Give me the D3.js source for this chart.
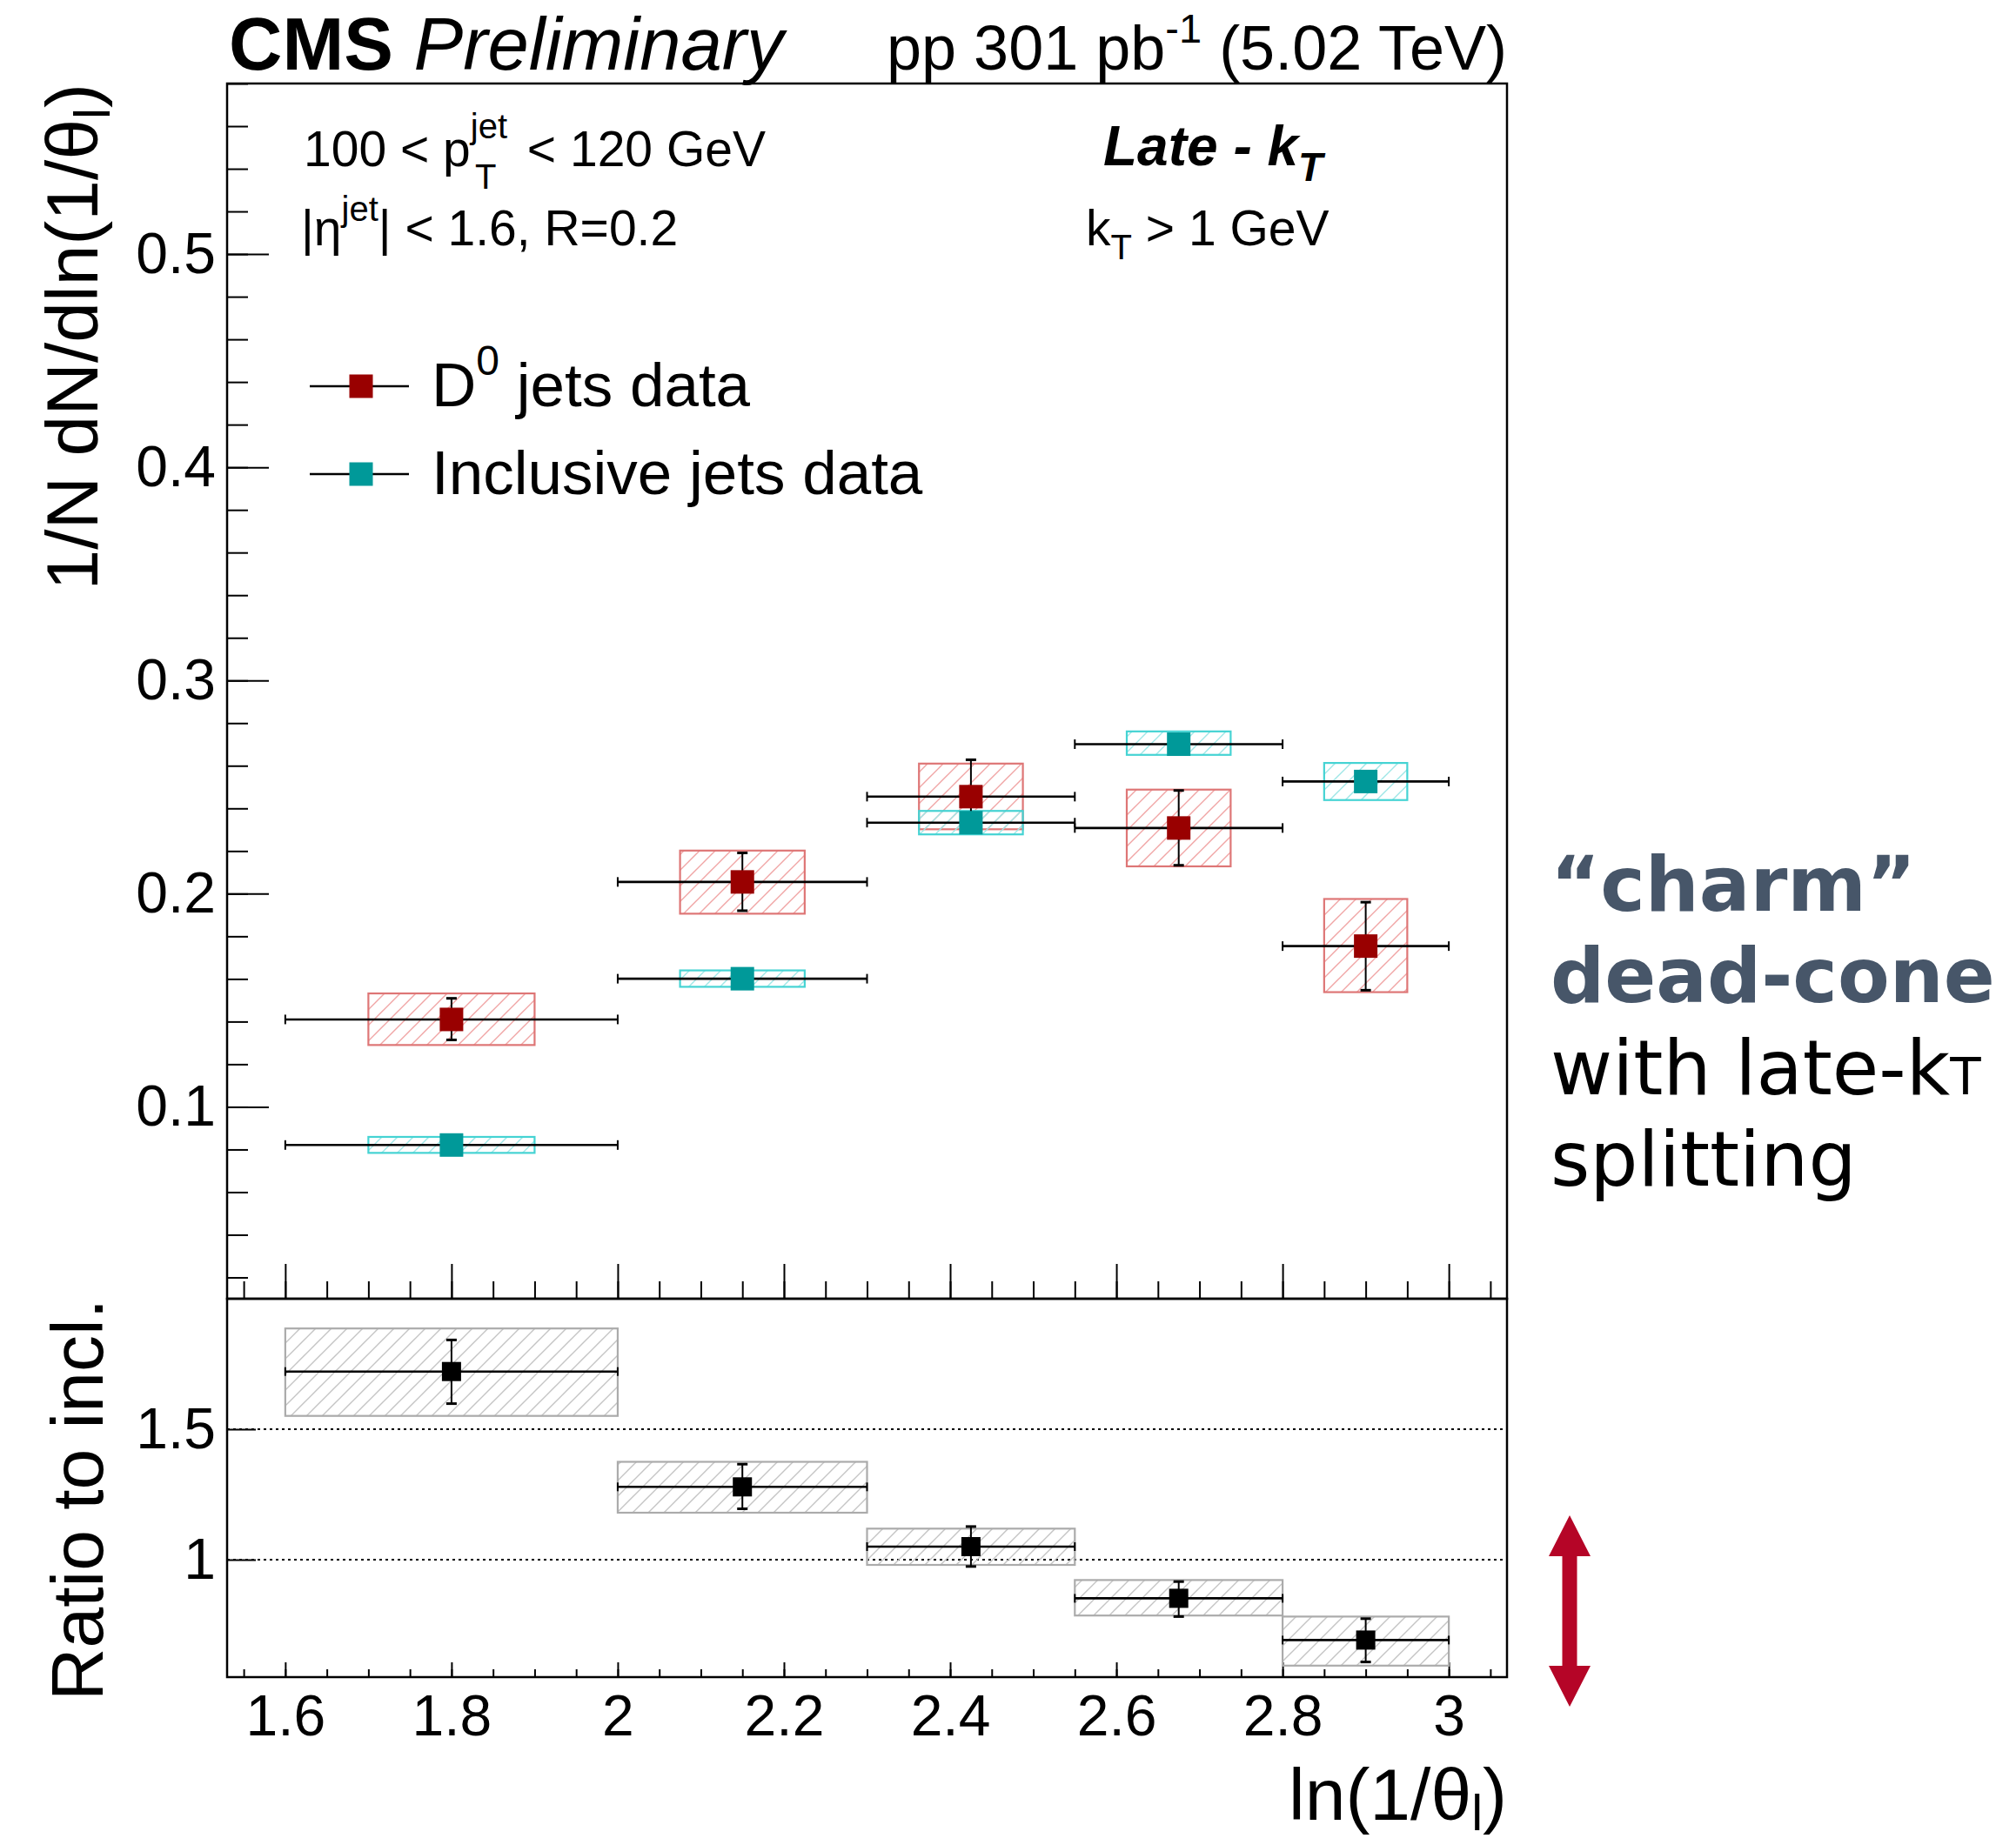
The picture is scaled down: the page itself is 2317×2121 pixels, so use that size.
<!DOCTYPE html>
<html>
<head>
<meta charset="utf-8">
<script src="https://cdn.jsdelivr.net/npm/d3@7"></script>
<style>
  body { margin: 0; background: #fff; }
  svg { display: block; }
</style>
</head>
<body>
<svg id="chart" width="2317" height="2121"></svg>
<script>
// ---- binning in ln(1/theta) ----
const binLow    = [1.6, 2.0, 2.3, 2.55, 2.8];
const binHigh   = [2.0, 2.3, 2.55, 2.8, 3.0];
const binCenter = [1.8, 2.15, 2.425, 2.675, 2.9];

// ---- D0 jets data ----
const d0Value  = [0.1410, 0.2055, 0.2455, 0.2308, 0.1754];
const d0StatLo = [0.1314, 0.1920, 0.2285, 0.2133, 0.1547];
const d0StatHi = [0.1509, 0.2191, 0.2628, 0.2484, 0.1960];
const d0SystLo = [0.1290, 0.1906, 0.2302, 0.2128, 0.1538];
const d0SystHi = [0.1532, 0.2202, 0.2610, 0.2488, 0.1975];

// ---- inclusive jets data ----
const inclValue  = [0.0821, 0.1601, 0.2333, 0.2701, 0.2526];
const inclStatLo = [0.0811, 0.1591, 0.2323, 0.2691, 0.2514];
const inclStatHi = [0.0831, 0.1611, 0.2343, 0.2711, 0.2538];
const inclSystLo = [0.0784, 0.1563, 0.2278, 0.2651, 0.2439];
const inclSystHi = [0.0859, 0.1640, 0.2388, 0.2761, 0.2613];

// ---- ratio D0 / inclusive ----
const ratioValue  = [1.721, 1.279, 1.050, 0.852, 0.692];
const ratioStatLo = [1.598, 1.195, 0.974, 0.782, 0.608];
const ratioStatHi = [1.842, 1.366, 1.127, 0.916, 0.774];
const ratioSystLo = [1.551, 1.180, 0.980, 0.786, 0.594];
const ratioSystHi = [1.886, 1.375, 1.119, 0.922, 0.782];

// ---- axes ----
const xRange        = [1.53, 3.07];
const yTopRange     = [0.01, 0.58];
const yBotRange     = [0.55, 2.0];
const xTickValues   = [1.6, 1.8, 2.0, 2.2, 2.4, 2.6, 2.8, 3.0];
const xTickLabels   = ["1.6", "1.8", "2", "2.2", "2.4", "2.6", "2.8", "3"];
const yTopTicks     = [0.1, 0.2, 0.3, 0.4, 0.5];
const yTopLabels    = ["0.1", "0.2", "0.3", "0.4", "0.5"];
const yBotTicks     = [1.0, 1.5];
const yBotLabels    = ["1", "1.5"];
const refLines      = [1.0, 1.5];

// ---- layout ----
const X0 = 261, X1 = 1732;
const TOP0 = 96, TOP1 = 1493, BOT1 = 1928;
const FONT = "'Liberation Sans', Arial, Helvetica, sans-serif";

const RED = "#990000", RED_BOX = "#de7676", RED_HATCH = "#f0a4a4";
const TEAL = "#009999", TEAL_BOX = "#45d3d3", TEAL_HATCH = "#9ee6e6";
const GREY_BOX = "#ababab", GREY_HATCH = "#c4c4c4";

const svg = d3.select("#chart");
svg.append("rect").attr("width", 2317).attr("height", 2121).attr("fill", "#fff");

const x    = d3.scaleLinear().domain(xRange).range([X0, X1]);
const yTop = d3.scaleLinear().domain(yTopRange).range([TOP1, TOP0]);
const yBot = d3.scaleLinear().domain(yBotRange).range([BOT1, TOP1]);

// hatch patterns ( /// )
const defs = svg.append("defs");
function hatch(id, color) {
  const s = 18;
  const p = defs.append("pattern").attr("id", id)
    .attr("patternUnits", "userSpaceOnUse").attr("width", s).attr("height", s);
  p.append("path")
    .attr("d", `M0,${s} L${s},0 M${-s/2},${s/2} L${s/2},${-s/2} M${s/2},${s*1.5} L${s*1.5},${s/2}`)
    .attr("stroke", color).attr("stroke-width", 1.4).attr("fill", "none");
}
hatch("hRed", RED_HATCH);
hatch("hTeal", TEAL_HATCH);
hatch("hGrey", GREY_HATCH);

// ---- axis helper ----
function styleAxis(g, fontSize) {
  g.select(".domain").remove();
  g.selectAll(".tick line").attr("stroke", "#000").attr("stroke-width", 2);
  g.selectAll(".tick text").attr("font-family", FONT).attr("font-size", fontSize).attr("fill", "#000");
}
const minorX = d3.range(1.55, 3.06, 0.05).map(v => +v.toFixed(2));
const minorYTop = d3.range(0.02, 0.581, 0.02).map(v => +v.toFixed(2));

// upper panel: y axis
svg.append("g").attr("transform", `translate(${X0},0)`)
  .call(d3.axisLeft(yTop).tickValues(minorYTop).tickSize(-24).tickFormat(() => ""))
  .call(g => styleAxis(g, 0));
svg.append("g").attr("transform", `translate(${X0},0)`)
  .call(d3.axisLeft(yTop).tickValues(yTopTicks).tickSize(-48).tickPadding(13)
        .tickFormat((d, i) => yTopLabels[i]))
  .call(g => styleAxis(g, 66));

// upper panel: x ticks (no labels)
svg.append("g").attr("transform", `translate(0,${TOP1})`)
  .call(d3.axisBottom(x).tickValues(minorX).tickSize(-20).tickFormat(() => ""))
  .call(g => styleAxis(g, 0));
svg.append("g").attr("transform", `translate(0,${TOP1})`)
  .call(d3.axisBottom(x).tickValues(xTickValues).tickSize(-40).tickFormat(() => ""))
  .call(g => styleAxis(g, 0));

// lower panel: y axis
svg.append("g").attr("transform", `translate(${X0},0)`)
  .call(d3.axisLeft(yBot).tickValues(yBotTicks).tickSize(-33).tickPadding(13)
        .tickFormat((d, i) => yBotLabels[i]))
  .call(g => styleAxis(g, 66));

// lower panel: x axis with labels
svg.append("g").attr("transform", `translate(0,${BOT1})`)
  .call(d3.axisBottom(x).tickValues(minorX).tickSize(-9).tickFormat(() => ""))
  .call(g => styleAxis(g, 0));
svg.append("g").attr("transform", `translate(0,${BOT1})`)
  .call(d3.axisBottom(x).tickValues(xTickValues).tickSize(-17).tickPadding(20)
        .tickFormat((d, i) => xTickLabels[i]))
  .call(g => styleAxis(g, 66));

// reference lines in ratio panel
svg.append("g").selectAll("line").data(refLines).join("line")
  .attr("x1", X0).attr("x2", X1)
  .attr("y1", d => yBot(d)).attr("y2", d => yBot(d))
  .attr("stroke", "#000").attr("stroke-width", 2).attr("stroke-dasharray", "3,4");

// ---- drawing helpers ----
const idx = d3.range(binCenter.length);

function systBoxes(yScale, lo, hi, x0f, x1f, stroke, fillId) {
  svg.append("g").selectAll("rect").data(idx).join("rect")
    .attr("x", i => x(x0f(i))).attr("width", i => x(x1f(i)) - x(x0f(i)))
    .attr("y", i => yScale(hi[i])).attr("height", i => yScale(lo[i]) - yScale(hi[i]))
    .attr("fill", `url(#${fillId})`).attr("stroke", stroke).attr("stroke-width", 2.2);
}
function errorBars(yScale, val, lo, hi, hCap, lw) {
  const g = svg.append("g").attr("stroke", "#000").attr("fill", "none");
  // horizontal bin-width bars with end caps
  g.selectAll(".h").data(idx).join("line")
    .attr("x1", i => x(binLow[i])).attr("x2", i => x(binHigh[i]))
    .attr("y1", i => yScale(val[i])).attr("y2", i => yScale(val[i]))
    .attr("stroke-width", lw);
  g.selectAll(".hc").data(idx.flatMap(i => [[i, binLow[i]], [i, binHigh[i]]])).join("line")
    .attr("x1", d => x(d[1])).attr("x2", d => x(d[1]))
    .attr("y1", d => yScale(val[d[0]]) - hCap).attr("y2", d => yScale(val[d[0]]) + hCap)
    .attr("stroke-width", 2);
  // vertical statistical bars with caps
  g.selectAll(".v").data(idx).join("line")
    .attr("x1", i => x(binCenter[i])).attr("x2", i => x(binCenter[i]))
    .attr("y1", i => yScale(lo[i])).attr("y2", i => yScale(hi[i]))
    .attr("stroke-width", 2);
  g.selectAll(".vc").data(idx.flatMap(i => [[i, lo[i]], [i, hi[i]]])).join("line")
    .attr("x1", d => x(binCenter[d[0]]) - 6).attr("x2", d => x(binCenter[d[0]]) + 6)
    .attr("y1", d => yScale(d[1])).attr("y2", d => yScale(d[1]))
    .attr("stroke-width", 3);
}
function markers(yScale, val, color, size) {
  svg.append("g").selectAll("rect").data(idx).join("rect")
    .attr("x", i => x(binCenter[i]) - size / 2).attr("y", i => yScale(val[i]) - size / 2)
    .attr("width", size).attr("height", size).attr("fill", color);
}

const boxLo = i => binCenter[i] - (binHigh[i] - binLow[i]) / 4;
const boxHi = i => binCenter[i] + (binHigh[i] - binLow[i]) / 4;

// upper panel
systBoxes(yTop, d0SystLo, d0SystHi, boxLo, boxHi, RED_BOX, "hRed");
systBoxes(yTop, inclSystLo, inclSystHi, boxLo, boxHi, TEAL_BOX, "hTeal");
errorBars(yTop, d0Value, d0StatLo, d0StatHi, 5.5, 2.6);
errorBars(yTop, inclValue, inclStatLo, inclStatHi, 5.5, 2.6);
markers(yTop, d0Value, RED, 27);
markers(yTop, inclValue, TEAL, 27);

// ratio panel
systBoxes(yBot, ratioSystLo, ratioSystHi, i => binLow[i], i => binHigh[i], GREY_BOX, "hGrey");
errorBars(yBot, ratioValue, ratioStatLo, ratioStatHi, 5, 2.6);
markers(yBot, ratioValue, "#000", 22);

// frames
svg.append("rect").attr("x", X0).attr("y", TOP0).attr("width", X1 - X0).attr("height", TOP1 - TOP0)
  .attr("fill", "none").attr("stroke", "#000").attr("stroke-width", 2.5);
svg.append("rect").attr("x", X0).attr("y", TOP1).attr("width", X1 - X0).attr("height", BOT1 - TOP1)
  .attr("fill", "none").attr("stroke", "#000").attr("stroke-width", 2.5);

// ---- texts ----
function txt(xp, yp, size, opts = {}) {
  return svg.append("text").attr("x", xp).attr("y", yp)
    .attr("font-family", opts.family || FONT).attr("font-size", size)
    .attr("font-weight", opts.weight || "normal").attr("font-style", opts.style || "normal")
    .attr("text-anchor", opts.anchor || "start").attr("fill", opts.fill || "#000");
}

// header
const hdr = txt(263, 80, 85);
hdr.append("tspan").attr("font-weight", "bold").text("CMS");
hdr.append("tspan").attr("font-style", "italic").text(" Preliminary");
const lumi = txt(X1, 80, 72, { anchor: "end" });
lumi.append("tspan").text("pp 301 pb");
lumi.append("tspan").attr("font-size", 47).attr("dy", -31).text("-1");
lumi.append("tspan").attr("dy", 31).text(" (5.02 TeV)");

// kinematic selection
const t1 = txt(349, 191, 57);
t1.append("tspan").text("100 < p");
t1.append("tspan").attr("font-size", 40).attr("dy", -32).text("jet");
t1.append("tspan").attr("font-size", 40).attr("x", 546).attr("dy", 58).text("T");
t1.append("tspan").attr("x", 590).attr("dy", -26).text(" < 120 GeV");

const t2 = txt(346, 282, 57);
t2.append("tspan").text("|η");
t2.append("tspan").attr("font-size", 40).attr("dy", -28).text("jet");
t2.append("tspan").attr("dy", 28).text("| < 1.6, R=0.2");

const t3 = txt(1268, 190, 64, { weight: "bold", style: "italic" });
t3.append("tspan").text("Late - k");
t3.append("tspan").attr("font-size", 46).attr("dy", 18).text("T");

const t4 = txt(1248, 282, 57);
t4.append("tspan").text("k");
t4.append("tspan").attr("font-size", 40).attr("dy", 16).text("T");
t4.append("tspan").attr("dy", -16).text(" > 1 GeV");

// legend
const legendRows = [
  { y: 444, color: RED, label: "D", sup: "0", rest: " jets data" },
  { y: 545, color: TEAL, label: "Inclusive jets data", sup: null, rest: "" }
];
const lg = svg.append("g");
legendRows.forEach(r => {
  lg.append("line").attr("x1", 356).attr("x2", 470).attr("y1", r.y).attr("y2", r.y)
    .attr("stroke", "#000").attr("stroke-width", 2.6);
  lg.append("rect").attr("x", 415 - 13.5).attr("y", r.y - 13.5).attr("width", 27).attr("height", 27)
    .attr("fill", r.color);
  const t = txt(496, r.y + 23, 71);
  t.append("tspan").text(r.label);
  if (r.sup) {
    t.append("tspan").attr("font-size", 48).attr("dy", -36).text(r.sup);
    t.append("tspan").attr("dy", 36).text(r.rest);
  }
});

// axis titles
const yt = svg.append("text").attr("transform", `translate(112,${TOP0}) rotate(-90)`)
  .attr("font-family", FONT).attr("font-size", 84).attr("text-anchor", "end");
yt.append("tspan").text("1/N dN/dln(1/θ");
yt.append("tspan").attr("font-size", 58).attr("dy", 14).text("l");
yt.append("tspan").attr("dy", -14).text(")");

svg.append("text").attr("transform", `translate(118,${TOP1}) rotate(-90)`)
  .attr("font-family", FONT).attr("font-size", 84).attr("text-anchor", "end")
  .text("Ratio to incl.");

const xt = txt(X1, 2092, 84, { anchor: "end" });
xt.append("tspan").text("ln(1/θ");
xt.append("tspan").attr("font-size", 58).attr("dy", 12).text("l");
xt.append("tspan").attr("dy", -12).text(")");

// side annotation
const SIDE = "'DejaVu Sans', Verdana, sans-serif";
const SLATE = "#475669";
txt(1782, 1047, 87, { family: SIDE, weight: "bold", fill: SLATE }).text("“charm”");
txt(1782, 1152, 87, { family: SIDE, weight: "bold", fill: SLATE }).text("dead-cone");
const w3 = txt(1782, 1258, 87, { family: SIDE });
w3.append("tspan").text("with late-k");
w3.append("tspan").attr("font-size", 58).text("T");
txt(1782, 1363, 87, { family: SIDE }).text("splitting");

// double-headed arrow
const ax = 1804, aTop = 1742, aBot = 1962, head = 47, hw = 24, sw = 8.5;
svg.append("path")
  .attr("d", `M${ax},${aTop} L${ax + hw},${aTop + head} L${ax + sw},${aTop + head}
              L${ax + sw},${aBot - head} L${ax + hw},${aBot - head} L${ax},${aBot}
              L${ax - hw},${aBot - head} L${ax - sw},${aBot - head} L${ax - sw},${aTop + head}
              L${ax - hw},${aTop + head} Z`)
  .attr("fill", "#b50527");
</script>
</body>
</html>
